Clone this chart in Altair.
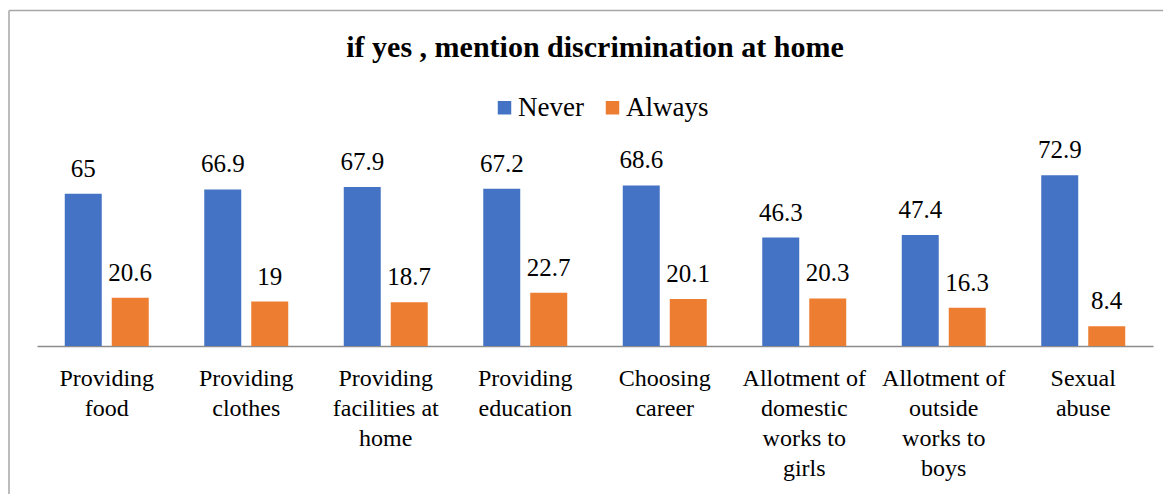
import json
import altair as alt
import pandas as pd

FONT = "Liberation Serif, DejaVu Serif, serif"

category_lines = [
    ["Providing", "food"],
    ["Providing", "clothes"],
    ["Providing", "facilities at", "home"],
    ["Providing", "education"],
    ["Choosing", "career"],
    ["Allotment of", "domestic", "works to", "girls"],
    ["Allotment of", "outside", "works to", "boys"],
    ["Sexual", "abuse"],
]
categories = [" ".join(l) for l in category_lines]
series = ["Never", "Always"]
never = [65, 66.9, 67.9, 67.2, 68.6, 46.3, 47.4, 72.9]
always = [20.6, 19, 18.7, 22.7, 20.1, 20.3, 16.3, 8.4]
colors = ["#4472C4", "#ED7D31"]

rows = []
for c, n, a in zip(categories, never, always):
    rows.append({"category": c, "series": "Never", "value": n})
    rows.append({"category": c, "series": "Always", "value": a})
df = pd.DataFrame(rows)

label_map = {c: l for c, l in zip(categories, category_lines)}
label_expr = json.dumps(label_map) + "[datum.label]"

x_enc = alt.X(
    "category:N",
    sort=categories,
    scale=alt.Scale(paddingInner=0.398, paddingOuter=0.199),
    axis=alt.Axis(
        title=None,
        labelExpr=label_expr,
        labelAngle=0,
        ticks=False,
        domainColor="#8c8c8c",
        domainWidth=1.5,
        labelFont=FONT,
        labelFontSize=24,
        labelColor="#000000",
        labelPadding=20,
        labelLineHeight=30,
        labelOverlap=False,
        labelBound=False,
        labelLimit=400,
        grid=False,
    ),
)
xo_enc = alt.XOffset("series:N", sort=series, scale=alt.Scale(paddingInner=0.213, paddingOuter=0))
y_enc = alt.Y("value:Q", scale=alt.Scale(domain=[0, 88], nice=False, zero=True), axis=None)

base = alt.Chart(df)

bars = base.mark_bar().encode(
    x=x_enc,
    xOffset=xo_enc,
    y=y_enc,
    color=alt.Color(
        "series:N",
        sort=series,
        scale=alt.Scale(domain=series, range=colors),
        legend=alt.Legend(
            title=None,
            orient="none",
            legendX=454,
            legendY=-46,
            direction="horizontal",
            symbolType="square",
            symbolSize=182,
            symbolStrokeWidth=0,
            labelFont=FONT,
            labelFontSize=27,
            labelColor="#000000",
            labelOffset=0,
            columnPadding=15,
            padding=0,
        ),
    ),
)

labels = base.mark_text(
    dy=-17, baseline="alphabetic", fontSize=25, font=FONT, color="#000000"
).encode(x=x_enc, xOffset=xo_enc, y=y_enc, text=alt.Text("value:Q"))

one = pd.DataFrame({"a": [0]})
frame_left = alt.Chart(one).mark_rule(color="#a6a6a6", strokeWidth=1.5).encode(
    x=alt.value(-28), y=alt.value(-129.5), y2=alt.value(360)
)
frame_top = alt.Chart(one).mark_rule(color="#a6a6a6", strokeWidth=1.5).encode(
    x=alt.value(-28), x2=alt.value(1150), y=alt.value(-129.5)
)

chart = alt.layer(bars, labels, frame_left, frame_top).properties(
    width=1116,
    height=206,
    autosize=alt.AutoSizeParams(type="none"),
    padding={"left": 29, "top": 132, "right": 10, "bottom": 150},
    title=alt.Title(
        "if yes , mention discrimination at home",
        font=FONT,
        fontSize=30,
        fontWeight="bold",
        color="#000000",
        anchor="middle",
        offset=-53,
    ),
).configure_view(stroke=None)

chart.save("out.html", embed_options={"renderer": "svg", "actions": False})
